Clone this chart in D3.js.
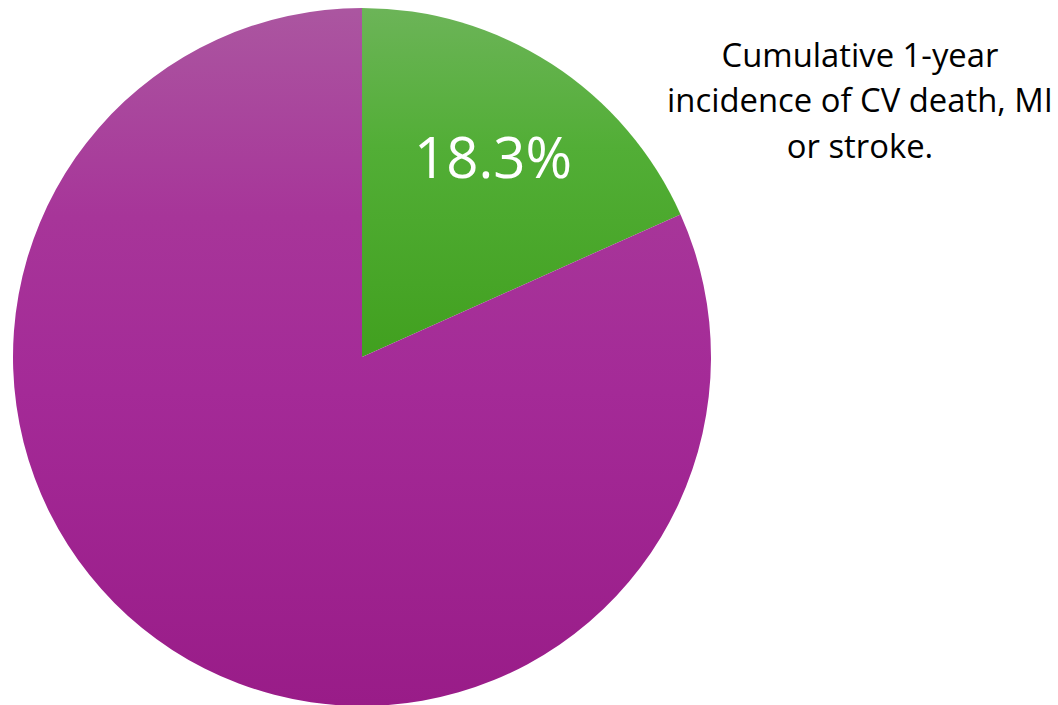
<!DOCTYPE html>
<html>
<head>
<meta charset="utf-8">
<script src="https://cdn.jsdelivr.net/npm/d3@7/dist/d3.min.js"></script>
<style>
  html, body { margin: 0; padding: 0; background: #ffffff; }
  svg { display: block; }
</style>
</head>
<body>
<svg id="chart" width="1058" height="705"></svg>
<script>
// Share of patients with the composite outcome within one year
const categories = ["CV death, MI or stroke", "Event-free"];
const values = [18.3, 81.7];
const valueLabels = ["18.3%", ""];
const titleLines = ["Cumulative 1-year", "incidence of CV death, MI", "or stroke."];

// Vertical gradient stops per slice: [offset, colour]
const gradientStops = [
  [[0, "#6cb458"], [0.4, "#52ae36"], [1, "#41a01f"]],
  [[0, "#ab56a0"], [0.3, "#a73599"], [0.55, "#a42a97"], [1, "#991c88"]]
];

const width = 1058, height = 705;
const cx = 362, cy = 357, radius = 349;

const svg = d3.select("#chart");
const defs = svg.append("defs");

gradientStops.forEach((stops, i) => {
  const grad = defs.append("linearGradient")
    .attr("id", "grad" + i)
    .attr("gradientUnits", "objectBoundingBox")
    .attr("x1", 0).attr("y1", 0).attr("x2", 0).attr("y2", 1);
  stops.forEach(([o, c]) => {
    grad.append("stop").attr("offset", o).attr("stop-color", c);
  });
});

const pie = d3.pie().sort(null).value(d => d);
const arcs = pie(values);
const arc = d3.arc().innerRadius(0).outerRadius(radius);

const g = svg.append("g").attr("transform", `translate(${cx},${cy})`);

g.selectAll("path.slice")
  .data(arcs)
  .join("path")
  .attr("class", "slice")
  .attr("d", arc)
  .attr("fill", (d, i) => `url(#grad${i})`);

// Value label inside the green slice
const valueText = g.selectAll("text.value")
  .data(arcs.filter((d, i) => valueLabels[i]))
  .join("text")
  .attr("class", "value")
  .attr("x", 493 - cx)
  .attr("y", 178 - cy)
  .attr("text-anchor", "middle")
  .attr("font-family", "'Open Sans', 'Noto Sans', sans-serif")
  .attr("font-size", 54)
  .attr("fill", "#ffffff")
  .text(d => valueLabels[d.index]);

// Side caption
const caption = svg.append("text")
  .attr("text-anchor", "middle")
  .attr("font-family", "'Open Sans', 'Noto Sans', sans-serif")
  .attr("font-size", 28)
  .attr("fill", "#000000");

const baselines = [67, 112, 158];
titleLines.forEach((t, i) => {
  caption.append("tspan")
    .attr("x", 860)
    .attr("y", baselines[i])
    .text(t);
});

// Scale caption font so the widest line spans its intended width
const widest = caption.selectAll("tspan").nodes()[1].getComputedTextLength();
caption.attr("font-size", 28 * 386 / widest);

const vw = valueText.node().getComputedTextLength();
valueText.attr("font-size", 54 * 158 / vw);
</script>
</body>
</html>
